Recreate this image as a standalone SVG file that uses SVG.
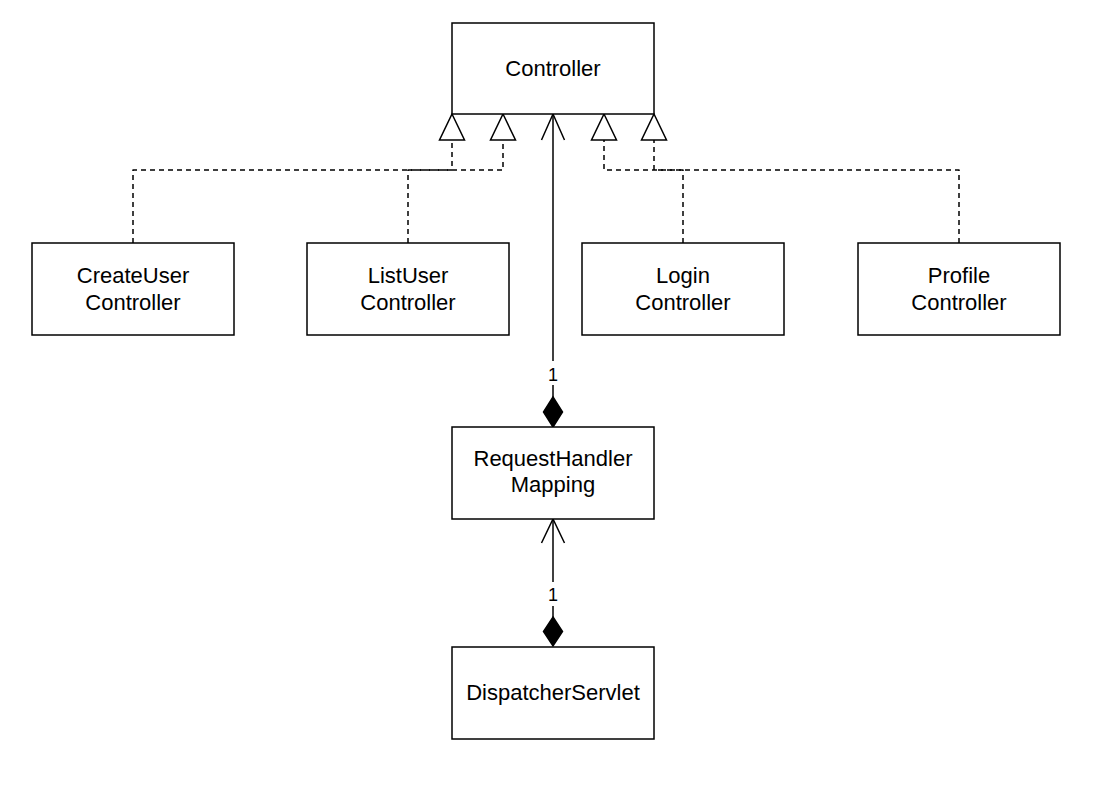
<svg xmlns="http://www.w3.org/2000/svg" width="1096" height="790" viewBox="0 0 1096 790">
<style>
.box{fill:#fff;stroke:#000;stroke-width:1.5}
.t{font-family:"Liberation Sans",Arial,Helvetica,sans-serif;font-size:22px;fill:#000;text-anchor:middle}
.dash{fill:none;stroke:#000;stroke-width:1.5;stroke-dasharray:5 4;stroke-linejoin:round}
.line{fill:none;stroke:#000;stroke-width:1.5}
.tri{fill:#fff;stroke:#000;stroke-width:1.5;stroke-linejoin:miter}
.dia{fill:#000;stroke:#000;stroke-width:1.5}
.lbl{font-family:"Liberation Sans",Arial,Helvetica,sans-serif;font-size:18px;fill:#000;text-anchor:middle}
</style>
<rect width="1096" height="790" fill="#fff"/>
<g id="connectors">
  <path class="dash" d="M133,243 V170 H452 V140"/>
  <path class="dash" d="M408,243 V170 H503 V140"/>
  <path class="dash" d="M683,243 V170 H604 V140"/>
  <path class="dash" d="M959,243 V170 H654 V140"/>
  <polygon class="tri" points="452,114 464.5,140 439.5,140"/>
  <polygon class="tri" points="503,114 515.5,140 490.5,140"/>
  <polygon class="tri" points="604,114 616.5,140 591.5,140"/>
  <polygon class="tri" points="654,114 666.5,140 641.5,140"/>
  <line class="line" x1="553" y1="114" x2="553" y2="397"/>
  <polyline class="line" points="541.5,140 553,114 564.5,140"/>
  <polygon class="dia" points="553,397 562.5,412 553,427 543.5,412"/>
  <rect x="544" y="361" width="18" height="24" fill="#fff"/>
  <text class="lbl" x="553" y="381">1</text>
  <line class="line" x1="553" y1="519" x2="553" y2="617"/>
  <polyline class="line" points="541.5,543 553,519 564.5,543"/>
  <polygon class="dia" points="553,617 562.5,631.5 553,646 543.5,631.5"/>
  <rect x="544" y="582" width="18" height="24" fill="#fff"/>
  <text class="lbl" x="553" y="601">1</text>
</g>
<g id="controller">
  <rect class="box" x="452" y="23" width="202" height="91"/>
  <text class="t" x="553" y="76">Controller</text>
</g>
<g id="createuser">
  <rect class="box" x="32" y="243" width="202" height="92"/>
  <text class="t" x="133" y="283">CreateUser</text>
  <text class="t" x="133" y="310">Controller</text>
</g>
<g id="listuser">
  <rect class="box" x="307" y="243" width="202" height="92"/>
  <text class="t" x="408" y="283">ListUser</text>
  <text class="t" x="408" y="310">Controller</text>
</g>
<g id="login">
  <rect class="box" x="582" y="243" width="202" height="92"/>
  <text class="t" x="683" y="283">Login</text>
  <text class="t" x="683" y="310">Controller</text>
</g>
<g id="profile">
  <rect class="box" x="858" y="243" width="202" height="92"/>
  <text class="t" x="959" y="283">Profile</text>
  <text class="t" x="959" y="310">Controller</text>
</g>
<g id="requesthandler">
  <rect class="box" x="452" y="427" width="202" height="92"/>
  <text class="t" x="553" y="466">RequestHandler</text>
  <text class="t" x="553" y="492">Mapping</text>
</g>
<g id="dispatcher">
  <rect class="box" x="452" y="647" width="202" height="92"/>
  <text class="t" x="553" y="700">DispatcherServlet</text>
</g>
</svg>
